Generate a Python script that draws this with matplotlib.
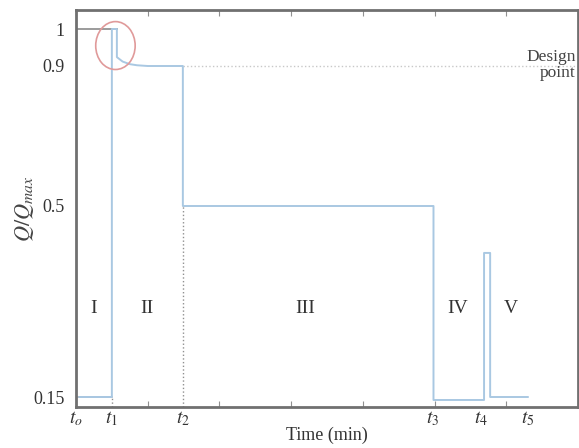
import numpy as np
import matplotlib
matplotlib.use('Agg')
import matplotlib.pyplot as plt
from matplotlib.patches import Ellipse
from matplotlib.ticker import NullLocator

plt.rcParams['font.family'] = ['Liberation Serif', 'DejaVu Serif']
plt.rcParams['mathtext.fontset'] = 'stix'

# Operating profile (time in arbitrary units, Q/Qmax)
t_line = [0.1, 1.0, 1.0, 1.14, 1.14, 1.3, 1.5, 1.7, 2.0, 2.98, 2.98, 9.97, 9.97,
          11.38, 11.38, 11.55, 11.55, 12.6]
q_line = [0.15, 0.15, 1.0, 1.0, 0.924, 0.912, 0.905, 0.902, 0.9, 0.9, 0.5, 0.5, 0.1445,
          0.1445, 0.414, 0.414, 0.15, 0.15]

t_marks = [0, 1.0, 2.98, 9.95, 11.3, 12.6]
t_labels = ['$t_o$', '$t_1$', '$t_2$', '$t_3$', '$t_4$', '$t_5$']

y_ticks = [0.15, 0.5, 0.9, 1.0]
y_labels = ['0.15', '0.5', '0.9', '1']

phases = ['I', 'II', 'III', 'IV', 'V']
phase_x = [0.5, 1.97, 6.4, 10.65, 12.12]
phase_y = 0.313

# non-uniform y axis (as drawn in the original sketch)
yk = [0.1316, 0.15, 0.5, 0.9, 1.0, 1.0514]
uk = [0, 10, 201, 341, 378, 397]

def fwd(v):
    return np.interp(v, yk, uk, left=-1e3, right=1e3)

def inv(u):
    return np.interp(u, uk, yk)

fig = plt.figure(figsize=(5.79, 4.48), dpi=100)
ax = fig.add_axes([76/579, 41/448, 502/579, 397/448])
ax.set_yscale('function', functions=(fwd, inv))
ax.set_xlim(0, 14)
ax.set_ylim(0.1316, 1.0514)

ax.plot(t_line, q_line, color='#a9c8e2', lw=1.4, zorder=3)
# reference lines
ax.plot([0, 1.14], [1.0, 1.0], color='#8a8a8a', lw=1.2, zorder=2)
ax.plot([0, 1.0], [0.15, 0.15], color='#b0b8c0', lw=1.2, zorder=2)
ax.plot([2.98, 14], [0.9, 0.9], color='#c8c8c8', lw=1.0, ls=':', zorder=1)
ax.plot([2.98, 2.98], [0.1316, 0.5], color='#909090', lw=1.0, ls=':', zorder=1)
ax.plot([1.0, 1.0], [0.1316, 0.15], color='#909090', lw=1.0, ls=':', zorder=1)

ell = Ellipse((1.1, 0.955), width=1.1, height=0.13, fill=False,
              edgecolor='#e09a9a', lw=1.2, zorder=4)
ax.add_patch(ell)

for s in ax.spines.values():
    s.set_color('#707070')
    s.set_linewidth(2)

ax.xaxis.remove_overlapping_locs = False
ax.set_xticks(np.arange(0, 15, 2))
ax.tick_params(axis='x', which='major', direction='in', length=4, top=True,
               labelbottom=False, color='#909090')
ax.set_xticks(t_marks, minor=True)
ax.set_xticklabels(t_labels, minor=True)
ax.tick_params(axis='x', which='minor', length=0, pad=2, labelsize=14,
               labelcolor='#333333')

ax.set_yticks(y_ticks)
ax.set_yticklabels(y_labels)
ax.yaxis.set_minor_locator(NullLocator())
ax.tick_params(axis='y', which='both', length=0, pad=8, labelsize=13,
               labelcolor='#333333')

for lab, x in zip(phases, phase_x):
    ax.text(x, phase_y, lab, ha='center', va='center', fontsize=14, color='#333333')

ax.text(13.93, 0.903, 'Design\npoint', ha='right', va='center', fontsize=12.5,
        color='#444444', linespacing=1.05)

ax.set_xlabel('Time (min)', fontsize=13, color='#333333', labelpad=-1)
ax.set_ylabel('$Q/Q_{max}$', fontsize=16, color='#444444', labelpad=-2)

fig.savefig('out.png', dpi=100)
